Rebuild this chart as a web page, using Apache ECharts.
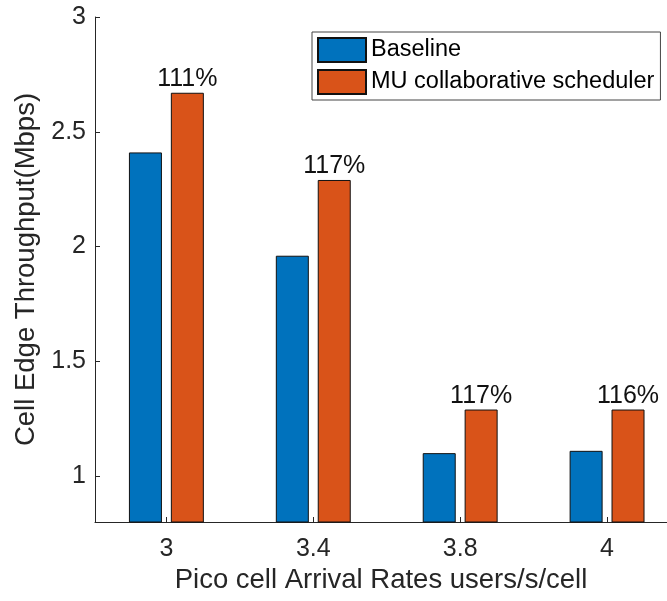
<!DOCTYPE html>
<html lang="en">

<head>
    <meta charset="UTF-8">
    <title>Cell Edge Throughput</title>
    <script src="https://cdn.jsdelivr.net/npm/echarts@6/dist/echarts.min.js"></script>
    <style>
        html, body { margin: 0; padding: 0; background: #fff; }
    </style>
</head>

<body>
    <div id="main" style="width: 667px;height:601px;"></div>

    <script>
        // arrival rates (categories) and the two series
        var rates = ['3', '3.4', '3.8', '4']
        var baseline = [2.41, 1.96, 1.10, 1.11]
        var muSched = [2.67, 2.29, 1.29, 1.29]
        var gains = ['111%', '117%', '117%', '116%']
        var yTicks = [1, 1.5, 2, 2.5, 3]

        var font = 'Liberation Sans, Arial, Helvetica, sans-serif'
        var ink = '#262626'

        var mCharts = echarts.init(document.getElementById('main'))
        var option = {
            backgroundColor: '#fff',
            animation: false,
            grid: {
                left: 95,
                right: 0,
                top: 17,
                bottom: 79
            },
            legend: {
                orient: 'vertical',
                left: 312,
                top: 32,
                icon: 'rect',
                itemWidth: 48,
                itemHeight: 24,
                itemGap: 6,
                padding: [5, 6, 5, 5],
                borderColor: '#444',
                borderWidth: 1,
                backgroundColor: '#fff',
                textStyle: { fontFamily: font, fontSize: 23.5, color: '#000' },
                data: ['Baseline', 'MU collaborative scheduler']
            },
            xAxis: {
                type: 'value',
                min: -0.486,
                max: 3.408,
                name: 'Pico cell Arrival Rates users/s/cell',
                nameLocation: 'middle',
                nameGap: 41,
                nameTextStyle: { fontFamily: font, fontSize: 27.5, color: ink },
                axisLine: { show: true, onZero: false, lineStyle: { color: ink, width: 1 } },
                axisTick: {
                    show: true, inside: true, length: 5,
                    customValues: [0, 1, 2, 3],
                    lineStyle: { color: ink }
                },
                axisLabel: {
                    customValues: [0, 1, 2, 3],
                    margin: 15,
                    fontFamily: font, fontSize: 25, color: ink,
                    formatter: function (v) { return rates[Math.round(v)] }
                },
                splitLine: { show: false }
            },
            yAxis: {
                type: 'value',
                min: 0.8,
                max: 3,
                name: 'Cell Edge Throughput(Mbps)',
                nameLocation: 'middle',
                nameGap: 52,
                nameTextStyle: { fontFamily: font, fontSize: 27.5, color: ink },
                axisLine: { show: true, onZero: false, lineStyle: { color: ink, width: 1 } },
                axisTick: {
                    show: true, inside: true, length: 5,
                    customValues: yTicks,
                    lineStyle: { color: ink }
                },
                axisLabel: {
                    customValues: yTicks,
                    margin: 9,
                    fontFamily: font, fontSize: 25, color: ink
                },
                splitLine: { show: false }
            },
            series: [
                {
                    name: 'Baseline',
                    type: 'bar',
                    barWidth: 33,
                    barGap: '27%',
                    data: baseline.map(function (v, i) { return [i, v] }),
                    itemStyle: { color: '#0072BD', borderColor: '#111', borderWidth: 1 }
                },
                {
                    name: 'MU collaborative scheduler',
                    type: 'bar',
                    barWidth: 33,
                    barGap: '27%',
                    data: muSched.map(function (v, i) { return [i, v] }),
                    itemStyle: { color: '#D95319', borderColor: '#111', borderWidth: 1 },
                    label: {
                        show: true,
                        position: 'top',
                        distance: 1,
                        fontFamily: font,
                        fontSize: 25,
                        color: '#111',
                        formatter: function (p) { return gains[p.dataIndex] }
                    }
                }
            ]
        }
        mCharts.setOption(option)
    </script>
</body>

</html>
